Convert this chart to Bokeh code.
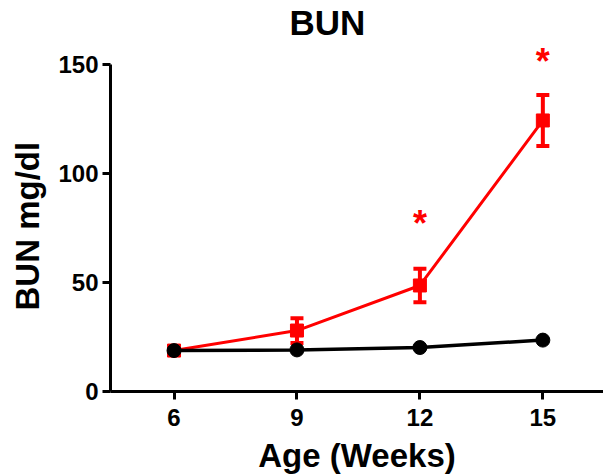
from bokeh.plotting import figure
from bokeh.models import Range1d, Whisker, TeeHead, ColumnDataSource, Label, FixedTicker, Title
from bokeh.core.properties import value
from bokeh.embed import file_html
from bokeh.resources import INLINE

weeks = [6, 9, 12, 15]
ko_mean = [18.8, 28.0, 48.7, 124.5]
ko_err = [1.5, 5.7, 7.7, 11.7]
wt_mean = [18.8, 19.1, 20.2, 23.6]
wt_err = [0.8, 0.8, 1.0, 1.2]
star_weeks = [12, 15]
star_y = [78.9, 153.2]
y_ticks = [0, 50, 100, 150]

FONT = "Liberation Sans"

p = figure(width=603, height=476, output_backend="svg", toolbar_location=None,
           x_range=Range1d(4.45, 16.48), y_range=Range1d(0, 179.6),
           min_border_left=110, min_border_right=0, min_border_top=0, min_border_bottom=85)
p.outline_line_color = None
p.grid.visible = False
p.background_fill_color = "white"
p.border_fill_color = "white"

for ax in (p.xaxis[0], p.yaxis[0]):
    ax.axis_line_width = 3
    ax.major_tick_line_width = 3
    ax.major_tick_out = 8
    ax.major_tick_in = 0
    ax.minor_tick_line_color = None
    ax.major_label_text_font = FONT
    ax.major_label_text_font_style = "bold"
    ax.major_label_text_font_size = "24px"
    ax.major_label_text_color = "black"
    ax.axis_label_text_font = FONT
    ax.axis_label_text_font_style = "bold"
    ax.axis_label_text_font_size = "33px"
    ax.axis_label_text_color = "black"

p.xaxis.ticker = FixedTicker(ticks=weeks)
p.yaxis.ticker = FixedTicker(ticks=y_ticks)
p.yaxis.bounds = (0, 150)
p.xaxis.axis_label = "Age (Weeks)"
p.xaxis.major_label_standoff = 9
p.yaxis.major_label_standoff = 4
p.xaxis.axis_label_standoff = 8

ylab = Title(text="BUN mg/dl", align="left", vertical_align="top", offset=81,
             text_font=FONT, text_font_style="bold", text_font_size="33px",
             text_color="black", standoff=16)
p.add_layout(ylab, "left")

ko_src = ColumnDataSource(dict(x=weeks, y=ko_mean,
                               lo=[m - e for m, e in zip(ko_mean, ko_err)],
                               hi=[m + e for m, e in zip(ko_mean, ko_err)]))
wt_src = ColumnDataSource(dict(x=weeks, y=wt_mean,
                               lo=[m - e for m, e in zip(wt_mean, wt_err)],
                               hi=[m + e for m, e in zip(wt_mean, wt_err)]))

p.line("x", "y", source=ko_src, line_color="#ff0000", line_width=3)
kw = Whisker(base="x", upper="hi", lower="lo", source=ko_src, dimension="height",
             line_color="#ff0000", line_width=4,
             upper_head=TeeHead(size=13, line_color="#ff0000", line_width=4),
             lower_head=TeeHead(size=13, line_color="#ff0000", line_width=4))
p.add_layout(kw)
p.scatter("x", "y", source=ko_src, marker="square", size=13, color="#ff0000")

p.line("x", "y", source=wt_src, line_color="black", line_width=3.5)
p.scatter("x", "y", source=wt_src, marker="circle", size=14, color="black")

p.text(x=star_weeks, y=star_y, text=["*", "*"], text_color="#ff0000",
       text_font=value(FONT), text_font_style="bold", text_font_size="36px",
       text_align="center", text_baseline="middle", y_offset=4)

title = Label(x=9.74, y=169.3, text="BUN", text_font=FONT, text_font_style="bold",
              text_font_size="35px", text_align="center", text_baseline="middle",
              text_color="black")
p.add_layout(title)

open("out.html", "w").write(file_html(p, INLINE))
